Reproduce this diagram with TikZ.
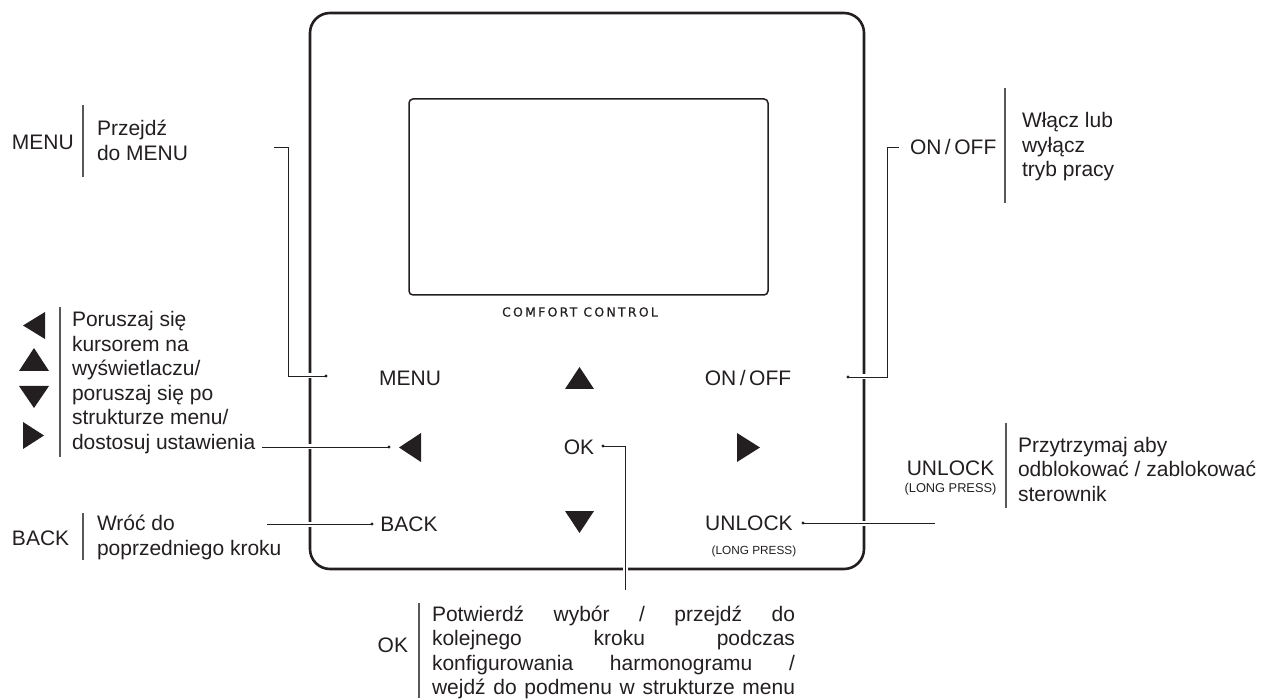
\documentclass[tikz,border=0pt]{standalone}
\usepackage{fontspec}
\setmainfont{Liberation Sans}
\newfontfamily\brandfont[LetterSpace=18,FakeBold=0.6]{DejaVu Sans}
\definecolor{ink}{HTML}{231F20}
\begin{document}
\begin{tikzpicture}[x=1pt,y=-1pt,
  every node/.style={inner sep=0pt, outer sep=0pt, text=ink},
  conn/.style={draw=ink, line width=0.9pt, preaction={draw=white, line width=5pt}},
  sepline/.style={draw=ink!75, line width=1.1pt},
  dotmark/.style={circle, fill=ink, inner sep=0pt, minimum size=3.4pt},
  big/.style={font=\fontsize{21}{24.5}\selectfont},
  smalltxt/.style={font=\fontsize{11.8}{14}\selectfont},
  desc/.style={big, align=left, anchor=west},
  tri/.style={fill=ink}]
\useasboundingbox (0,0) rectangle (1264,700);

% panel and screen
\draw[ink, line width=2.6pt, rounded corners=20pt] (310,13) rectangle (864,569);
\draw[ink, line width=1.5pt, rounded corners=4pt] (409,99) rectangle (768,295);
\node[font=\fontsize{12.5}{14}\brandfont] (brand) at (580,312) {COMFORT\hspace{6pt}CONTROL};

% panel buttons
\node[big] (bMenu) at (410,378) {MENU};
\node[big] (bOnOff) at (748,378) {ON\,/\,OFF};
\node[big] (bOk) at (579,447) {OK};
\node[big] (bBack) at (409,524) {BACK};
\node[big] (bUnlock) at (749,523) {UNLOCK};
\node[smalltxt] (bLong) at (754,551) {(LONG PRESS)};
\fill[tri] (565,389) -- (594,389) -- (579.5,367) -- cycle;
\fill[tri] (421,433) -- (421,462) -- (399,447.5) -- cycle;
\fill[tri] (737,433) -- (737,462) -- (760,447.5) -- cycle;
\fill[tri] (565,511) -- (594,511) -- (579.5,533) -- cycle;

% left side labels
\node[big, anchor=west] (lMenu) at (12,142) {MENU};
\draw[sepline] (83,105) -- (83,177);
\node[desc] (dMenu) at (97,140.5) {Przejdź\\do MENU};

\fill[tri] (45,312) -- (45,339) -- (23,325.5) -- cycle;
\fill[tri] (19,371) -- (49,371) -- (34,348) -- cycle;
\fill[tri] (19,386) -- (49,386) -- (34,408) -- cycle;
\fill[tri] (23,422) -- (23,449) -- (44,435.5) -- cycle;
\draw[sepline] (60,307) -- (60,457);
\node[desc] (dArrows) at (72,382.5) {Poruszaj się\\kursorem na\\wyświetlaczu/\\poruszaj się po\\strukturze menu/\\dostosuj ustawienia};

\node[big, anchor=west] (lBack) at (12,538) {BACK};
\draw[sepline] (83,513) -- (83,560);
\node[desc] (dBack) at (97,537.5) {Wróć do\\poprzedniego kroku};

% right side labels
\node[big, anchor=west] (lOnOff) at (910,147) {ON\,/\,OFF};
\draw[sepline] (1005,88) -- (1005,203);
\node[desc] (dOnOff) at (1022,147) {Włącz lub\\wyłącz\\tryb pracy};

\node[big] (lUnlock) at (950.5,468) {UNLOCK};
\node[font=\fontsize{12.8}{14}\selectfont] (lLong) at (950.5,489) {(LONG PRESS)};
\draw[sepline] (1006,423) -- (1006,508);
\node[desc] (dUnlock) at (1018,469) {Przytrzymaj aby\\odblokować / zablokować\\sterownik};

% bottom label
\node[big, anchor=east] (lOk) at (408,645) {OK};
\draw[sepline] (419,603) -- (419,698);
\node[big, align=left, anchor=west] (dOk) at (432,652.5) {%
\makebox[363pt][s]{Potwierdź wybór / przejdź do}\\
\makebox[363pt][s]{kolejnego kroku podczas}\\
\makebox[363pt][s]{konfigurowania harmonogramu /}\\
\makebox[363pt][s]{wejdź do podmenu w strukturze menu}};

% connector coordinates
\coordinate (menuDot) at (326,376);
\coordinate (menuEnd) at (274,147);
\coordinate (onDot) at (848,377);
\coordinate (onEnd) at (899,147);
\coordinate (arrDot) at (389,447);
\coordinate (okDot) at (603,446);
\coordinate (okEnd) at (625,590);
\coordinate (backDot) at (372,524);
\coordinate (unDot) at (803,523);
\coordinate (unEnd) at (935,523);

\draw[conn] (menuDot) -- (288,376) |- (menuEnd);
\draw[conn] (onDot) -- (887,377) |- (onEnd);
\draw[conn] (dArrows.east |- arrDot) ++(7,0) -- (arrDot);
\draw[conn] (okDot) -| (okEnd);
\draw[conn] (dBack.east |- backDot) ++(-14,0) -- (backDot);
\draw[conn] (unDot) -- (unEnd);

\foreach \d in {menuDot,onDot,arrDot,okDot,backDot,unDot}
  \node[dotmark] (m-\d) at (\d) {};
\end{tikzpicture}
\end{document}
